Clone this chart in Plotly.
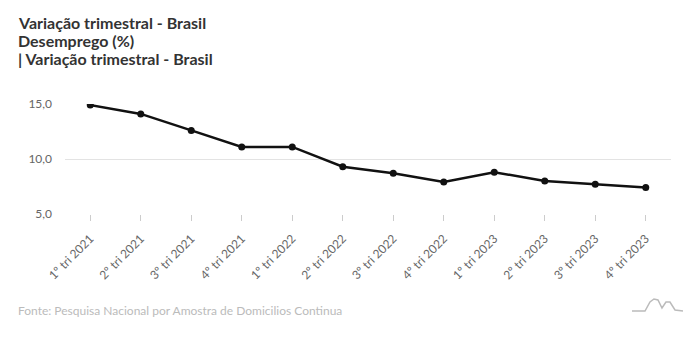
import plotly.graph_objects as go

categories = ["1º tri 2021", "2º tri 2021", "3º tri 2021", "4º tri 2021",
              "1º tri 2022", "2º tri 2022", "3º tri 2022", "4º tri 2022",
              "1º tri 2023", "2º tri 2023", "3º tri 2023", "4º tri 2023"]
desemprego = [14.9, 14.1, 12.6, 11.1, 11.1, 9.3, 8.7, 7.9, 8.8, 8.0, 7.7, 7.4]
y_ticks = [5, 10, 15]

W, H = 698, 341
L, R, T, B = 65, 27, 104, 127

fig = go.Figure()
fig.add_trace(go.Scatter(
    x=categories, y=desemprego, mode="lines+markers",
    line=dict(color="#111111", width=2.5),
    marker=dict(color="#111111", size=7),
    hoverinfo="x+y", showlegend=False,
))

font_main = "Lato, 'Open Sans', sans-serif"

fig.update_layout(
    width=W, height=H,
    margin=dict(l=L, r=R, t=T, b=B),
    paper_bgcolor="white", plot_bgcolor="white",
    separators=",.",
    font=dict(family=font_main, color="#666666", size=12),
    xaxis=dict(
        type="category", range=[-0.5, len(categories) - 0.5],
        showgrid=False, zeroline=False, showline=False,
        ticks="outside", ticklen=6, tickcolor="#cccccc", tickwidth=1,
        tickangle=-45, ticklabelstandoff=6,
        tickfont=dict(size=12, color="#666666"),
    ),
    yaxis=dict(
        range=[5, 15], tickvals=y_ticks, tickformat=".1f",
        showgrid=True, gridcolor="#e3e3e3", gridwidth=1,
        zeroline=False, showline=False,
        ticks="", ticklabelstandoff=12,
        tickfont=dict(size=12, color="#666666"),
    ),
)

titles = ["Variação trimestral - Brasil", "Desemprego (%)", "| Variação trimestral - Brasil"]
for i, t in enumerate(titles):
    fig.add_annotation(
        text="<b>" + t + "</b>", xref="paper", yref="paper",
        x=(16 - L) / (W - L - R), y=(H - B - (22 + i * 18.5)) / (H - T - B),
        xanchor="left", yanchor="middle", showarrow=False,
        font=dict(family=font_main, size=16, color="#333333"),
    )

fig.add_annotation(
    text="Fonte: Pesquisa Nacional por Amostra de Domicilios Continua",
    xref="paper", yref="paper",
    x=(16 - L) / (W - L - R), y=(H - B - 310) / (H - T - B),
    xanchor="left", yanchor="middle", showarrow=False,
    font=dict(family=font_main, size=12, color="#bbbbbb"),
)

# small decorative logo (bottom-right)
pw, ph = W - L - R, H - T - B
def px(x):
    return (x - L) / pw
def py(y):
    return (H - B - y) / ph
pts = [(632, 311), (645, 311), (650, 302), (654, 299), (658, 300), (662, 308),
       (666, 302), (670, 302), (675, 310), (683, 311)]
path = "M " + " L ".join(f"{px(a):.4f},{py(b):.4f}" for a, b in pts)
fig.add_shape(type="path", path=path, xref="paper", yref="paper",
              line=dict(color="#bbbbbb", width=1.5))

fig.write_html("out.html")
